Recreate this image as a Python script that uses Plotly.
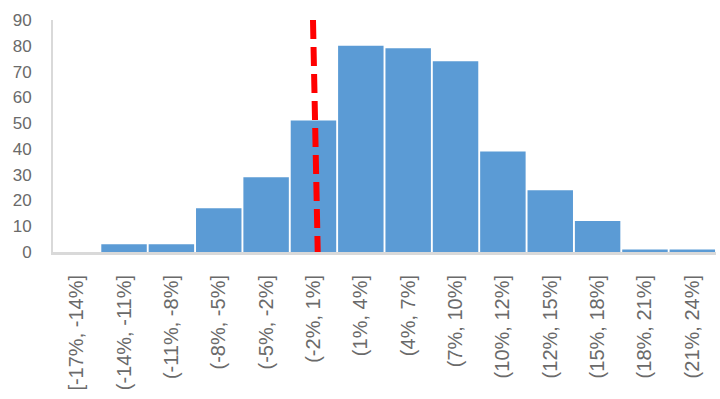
import plotly.graph_objects as go

categories = ["[-17%, -14%]", "(-14%, -11%]", "(-11%, -8%]", "(-8%, -5%]", "(-5%, -2%]",
              "(-2%, 1%]", "(1%, 4%]", "(4%, 7%]", "(7%, 10%]", "(10%, 12%]",
              "(12%, 15%]", "(15%, 18%]", "(18%, 21%]", "(21%, 24%]"]
counts = [0, 3, 3, 17, 29, 51, 80, 79, 74, 39, 24, 12, 1, 1]
marker_x = [4.99, 5.09]  # red dashed reference line, top to bottom (category index units)
marker_y = [90, 0]
y_ticks = [0, 10, 20, 30, 40, 50, 60, 70, 80, 90]

fig = go.Figure()
fig.add_trace(go.Bar(x=list(range(len(categories))), y=counts,
                     marker=dict(color="#5b9bd5", line=dict(width=0))))
fig.add_trace(go.Scatter(x=marker_x, y=marker_y, mode="lines",
                         line=dict(color="#ff0000", width=6, dash="19px,8px")))

fig.update_layout(
    width=720, height=399,
    margin=dict(l=53, r=4, t=20, b=147),
    paper_bgcolor="white", plot_bgcolor="white",
    showlegend=False, bargap=0.04,
    font=dict(family="Liberation Sans, Arial, sans-serif", color="#595959"),
)
fig.update_xaxes(
    tickmode="array", tickvals=list(range(len(categories))), ticktext=categories,
    tickangle=-90, tickfont=dict(size=20, color="#6a6a6a"),
    range=[-0.5, len(categories) - 0.5],
    showline=True, linecolor="#d9d9d9", linewidth=3, showgrid=False, ticks="", ticklen=0,
    zeroline=False, ticklabelstandoff=12,
)
fig.update_yaxes(
    range=[0, 90], tickvals=y_ticks, tickfont=dict(size=17, color="#6a6a6a"),
    showline=True, linecolor="#d9d9d9", linewidth=2, showgrid=False, zeroline=False,
    ticks="", ticklabelstandoff=16,
)
fig.write_html("out.html")
